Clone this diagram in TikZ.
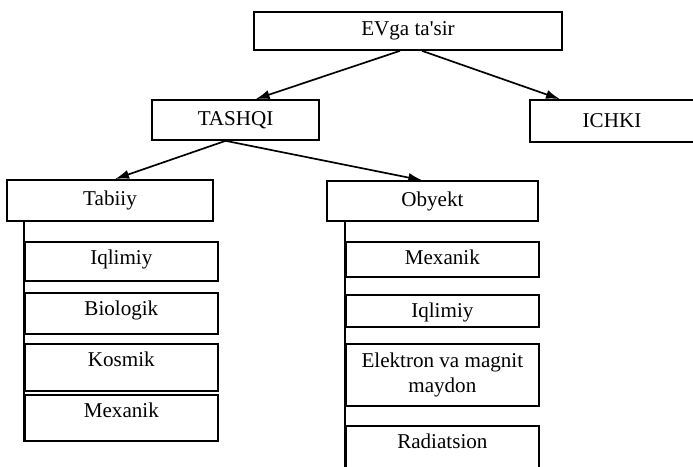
\documentclass[tikz,border=0pt]{standalone}
\usepackage{fontspec}
\setmainfont{Liberation Serif}
\usetikzlibrary{arrows.meta,positioning}

\tikzset{
  box/.style={draw, line width=1.2pt, inner sep=2pt, align=center},
  sub/.style={box, anchor=north west, minimum width=4.825cm, inner ysep=0pt,
              text height=0.575cm, text depth=#1},
}

\begin{document}
\begin{tikzpicture}[font=\fontsize{15}{18}\selectfont, line width=1.2pt,
                    >={Latex[length=10pt,width=6.5pt]}]
  \useasboundingbox (0,0) rectangle (17.325,11.65); % page

  \node[box, minimum width=7.7cm, minimum height=0.95cm] (ev) at (10.2,10.875) {EVga ta\textquotesingle sir}; % top
  \node[box, minimum width=4.175cm, minimum height=1.0cm] (tashqi) at (5.89,8.65) {TASHQI};
  \node[box, minimum width=4.1cm, minimum height=1.05cm] (ichki) at (15.3,8.625) {ICHKI};
  \node[box, minimum width=5.15cm, minimum height=1.025cm] (tabiiy) at (2.75,6.64) {Tabiiy};
  \node[box, minimum width=5.28cm, minimum height=1.0cm] (obyekt) at (10.81,6.62) {Obyekt};

  % Tabiiy column
  \node[sub=0.4cm]   (iqlimA) at (0.6,5.625) {Iqlimiy};
  \node[sub=0.45cm]  (bio)    at (0.6,4.35)  {Biologik};
  \node[sub=0.6cm]   (kosmik) at (0.6,3.075) {Kosmik};
  \node[sub=0.575cm] (mexA)   at (0.6,1.8)   {Mexanik};

  % Obyekt column
  \node[sub=0.3cm]   (mexB)   at (8.625,5.625) {Mexanik};
  \node[sub=0.225cm] (iqlimB) at (8.625,4.3)   {Iqlimiy};
  \node[box, anchor=north west, minimum width=4.825cm, minimum height=1.55cm]
                     (elektr) at (8.625,3.075) {Elektron va magnit\\maydon};
  \node[sub=0.675cm] (rad)    at (8.625,1.025) {Radiatsion};

  \draw[->] ([xshift=-0.2cm]ev.south) -- ([xshift=0.5cm]tashqi.north);
  \draw[->] ([xshift=0.35cm]ev.south) -- ([xshift=-1.3cm]ichki.north);
  \draw[->] ([xshift=-0.25cm]tashqi.south) -- ([xshift=0.125cm]tabiiy.north);
  \draw[->] ([xshift=-0.25cm]tashqi.south) -- ([xshift=-0.25cm]obyekt.north);

  \draw (tabiiy.south -| iqlimA.west) -- (mexA.south west); % left spine
  \draw (obyekt.south -| mexB.west) -- (rad.south west);    % right spine
\end{tikzpicture}
\end{document}
